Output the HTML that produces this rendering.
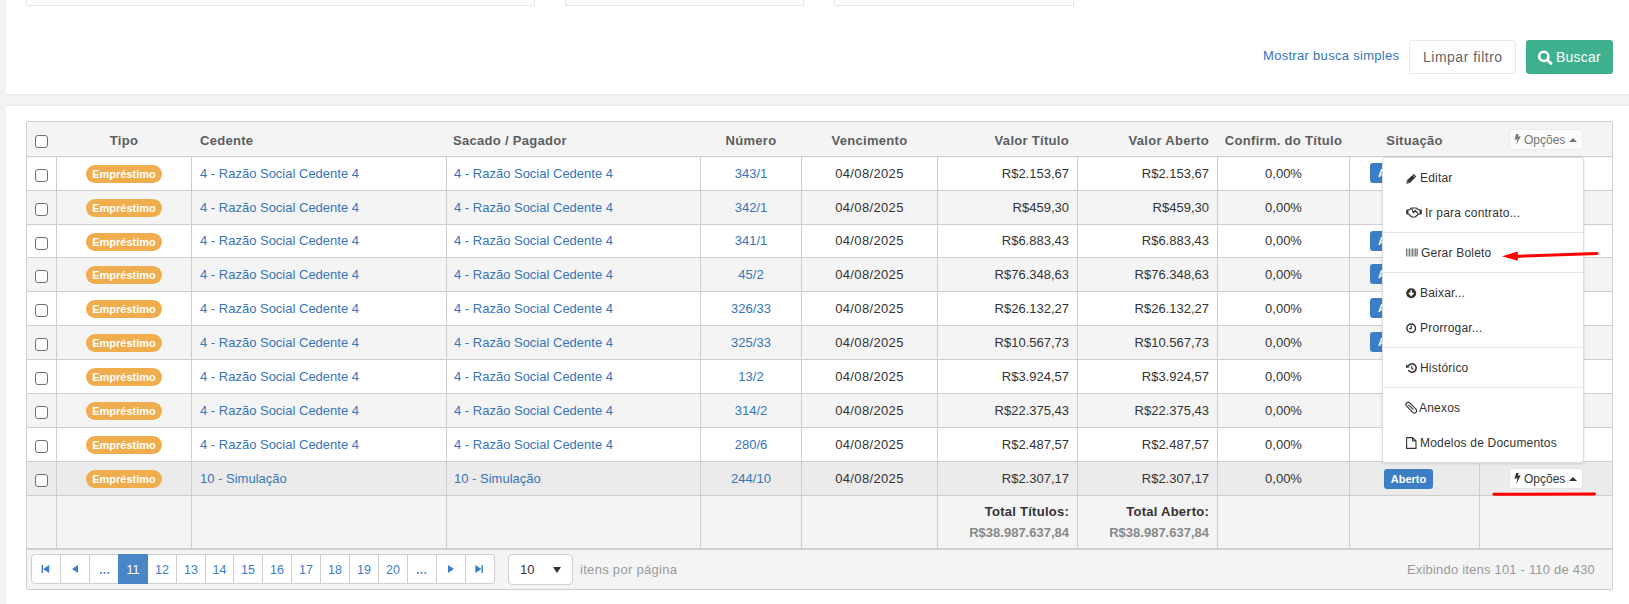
<!DOCTYPE html>
<html><head><meta charset="utf-8">
<style>
*{box-sizing:border-box;}
html,body{margin:0;padding:0;}
body{width:1629px;height:604px;overflow:hidden;position:relative;background:#f3f3f4;font-family:"Liberation Sans",sans-serif;font-size:13px;color:#333;}
.a{position:absolute;}
svg.a{overflow:visible;}
.t{position:absolute;white-space:nowrap;line-height:16px;}
.vl{position:absolute;width:1px;background:#cdcdcd;}
.hl{position:absolute;height:1px;background:#cdcdcd;}
.cb{position:absolute;width:13px;height:13px;border:1px solid #707070;border-radius:3px;background:#fff;}
.lnk{color:#3774b9;}
.emp{position:absolute;left:86px;width:76px;height:18px;border-radius:9px;background:#f0ad4e;color:#fff;font-weight:bold;font-size:11px;line-height:18px;text-align:center;}
.lbl{position:absolute;height:20px;border-radius:3px;background:#3c7ec6;color:#fff;font-weight:bold;font-size:11px;line-height:20px;text-align:center;}
.c{text-align:center;}
.r{text-align:right;}
.hd{font-weight:bold;color:#5b5e61;letter-spacing:0.3px;}
.pg{position:absolute;top:554px;height:30px;border-top:1px solid #cfcfcf;border-bottom:1px solid #cfcfcf;border-right:1px solid #cfcfcf;background:#fff;color:#3c7ec6;text-align:center;line-height:30px;font-size:12.5px;}
.mi{position:absolute;white-space:nowrap;color:#333;line-height:16px;font-size:12px;letter-spacing:0.2px;}
.sep{position:absolute;left:1383px;width:200px;height:1px;background:#e5e5e5;}
</style></head>
<body>

<div class="a" style="left:6px;top:0;width:1623px;height:95px;background:#fff;border-bottom:1px solid #e7eaec;"></div>
<div class="a" style="left:26px;top:-10px;width:509px;height:16px;border:1px solid #e5e6e7;background:#fff;"></div>
<div class="a" style="left:565px;top:-10px;width:239px;height:16px;border:1px solid #e5e6e7;background:#fff;"></div>
<div class="a" style="left:834px;top:-10px;width:240px;height:16px;border:1px solid #e5e6e7;background:#fff;"></div>
<div class="a" style="left:6px;top:105px;width:1623px;height:499px;background:#fff;border-top:1px solid #e7eaec;"></div>
<div class="t lnk" style="left:1263px;top:48px;font-size:13px;letter-spacing:0.3px;">Mostrar busca simples</div>
<div class="a" style="left:1409px;top:40px;width:107px;height:34px;border:1px solid #e7eaec;border-radius:3px;background:#fff;"></div>
<div class="t" style="left:1423px;top:49px;font-size:14px;color:#666;letter-spacing:0.5px;">Limpar filtro</div>
<div class="a" style="left:1526px;top:40px;width:87px;height:34px;border-radius:3px;background:#3eb08e;"></div>
<svg class="a" style="left:1537px;top:50px;" width="16" height="15" viewBox="0 0 16 15"><circle cx="6.8" cy="6.4" r="4.6" fill="none" stroke="#fff" stroke-width="2.6"/><line x1="10.2" y1="10" x2="14" y2="13.4" stroke="#fff" stroke-width="2.8" stroke-linecap="round"/></svg>
<div class="t" style="left:1556px;top:49px;font-size:14px;color:#fff;letter-spacing:0.2px;">Buscar</div>
<div class="a" style="left:26px;top:121px;width:1587px;height:469px;border:1px solid #cdcdcd;border-radius:2px;background:#fff;"></div>
<div class="a" style="left:27px;top:122px;width:1585px;height:34px;background:#f4f4f4;"></div>
<div class="a" style="left:27px;top:157px;width:1585px;height:33px;background:#fff;"></div>
<div class="a" style="left:27px;top:191px;width:1585px;height:33px;background:#f4f4f4;"></div>
<div class="a" style="left:27px;top:225px;width:1585px;height:32px;background:#fff;"></div>
<div class="a" style="left:27px;top:258px;width:1585px;height:33px;background:#f4f4f4;"></div>
<div class="a" style="left:27px;top:292px;width:1585px;height:33px;background:#fff;"></div>
<div class="a" style="left:27px;top:326px;width:1585px;height:33px;background:#f4f4f4;"></div>
<div class="a" style="left:27px;top:360px;width:1585px;height:33px;background:#fff;"></div>
<div class="a" style="left:27px;top:394px;width:1585px;height:33px;background:#f4f4f4;"></div>
<div class="a" style="left:27px;top:428px;width:1585px;height:33px;background:#fff;"></div>
<div class="a" style="left:27px;top:462px;width:1585px;height:33px;background:#ebebeb;"></div>
<div class="a" style="left:27px;top:496px;width:1585px;height:93px;background:#f4f4f4;"></div>
<div class="hl" style="left:27px;top:156px;width:1585px;"></div>
<div class="hl" style="left:27px;top:190px;width:1585px;"></div>
<div class="hl" style="left:27px;top:224px;width:1585px;"></div>
<div class="hl" style="left:27px;top:257px;width:1585px;"></div>
<div class="hl" style="left:27px;top:291px;width:1585px;"></div>
<div class="hl" style="left:27px;top:325px;width:1585px;"></div>
<div class="hl" style="left:27px;top:359px;width:1585px;"></div>
<div class="hl" style="left:27px;top:393px;width:1585px;"></div>
<div class="hl" style="left:27px;top:427px;width:1585px;"></div>
<div class="hl" style="left:27px;top:461px;width:1585px;"></div>
<div class="hl" style="left:27px;top:495px;width:1585px;"></div>
<div class="a" style="left:27px;top:548px;width:1585px;height:2px;background:#d0d0d0;"></div>
<div class="vl" style="left:56px;top:157px;height:391px;"></div>
<div class="vl" style="left:191px;top:157px;height:391px;"></div>
<div class="vl" style="left:446px;top:157px;height:391px;"></div>
<div class="vl" style="left:700px;top:157px;height:391px;"></div>
<div class="vl" style="left:801px;top:157px;height:391px;"></div>
<div class="vl" style="left:937px;top:157px;height:391px;"></div>
<div class="vl" style="left:1077px;top:157px;height:391px;"></div>
<div class="vl" style="left:1217px;top:157px;height:391px;"></div>
<div class="vl" style="left:1349px;top:157px;height:391px;"></div>
<div class="vl" style="left:1479px;top:157px;height:391px;"></div>
<div class="cb" style="left:35px;top:135px;"></div>
<div class="t hd c" style="left:57px;width:134px;top:133px;">Tipo</div>
<div class="t hd" style="left:200px;top:133px;">Cedente</div>
<div class="t hd" style="left:453px;top:133px;">Sacado / Pagador</div>
<div class="t hd c" style="left:701px;width:100px;top:133px;">Número</div>
<div class="t hd c" style="left:802px;width:135px;top:133px;">Vencimento</div>
<div class="t hd r" style="left:938px;width:131px;top:133px;">Valor Título</div>
<div class="t hd r" style="left:1078px;width:131px;top:133px;">Valor Aberto</div>
<div class="t hd c" style="left:1218px;width:131px;top:133px;">Confirm. do Título</div>
<div class="t hd c" style="left:1350px;width:129px;top:133px;">Situação</div>
<div class="a" style="left:1509px;top:129px;width:74px;height:21px;border:1px solid #ececec;border-radius:3px;background:#fbfbfb;"></div>
<svg class="a" style="left:1514px;top:134px;" width="7" height="12"><polygon points="2.2,0 4.8,0 3.8,2.6 6.7,2.3 2.2,11.2 3.5,5.3 0.4,5.8" fill="#777"/></svg>
<div class="t" style="left:1524px;top:132px;font-size:12px;color:#777;">Opções</div>
<svg class="a" style="left:1569px;top:138px;" width="8" height="4"><polygon points="0,4 8,4 4,0" fill="#777"/></svg>
<div class="cb" style="left:35px;top:169px;"></div>
<div class="emp" style="top:165px;">Empréstimo</div>
<div class="t lnk" style="left:200px;top:166px;">4 - Razão Social Cedente 4</div>
<div class="t lnk" style="left:454px;top:166px;">4 - Razão Social Cedente 4</div>
<div class="t lnk c" style="left:701px;width:100px;top:166px;">343/1</div>
<div class="t c" style="left:802px;width:135px;top:166px;letter-spacing:0.35px;">04/08/2025</div>
<div class="t r" style="left:938px;width:131px;top:166px;">R$2.153,67</div>
<div class="t r" style="left:1078px;width:131px;top:166px;">R$2.153,67</div>
<div class="t c" style="left:1218px;width:131px;top:166px;">0,00%</div>
<div class="lbl" style="left:1370px;width:77px;top:163px;text-align:left;padding-left:8px;">A vencer</div>
<div class="cb" style="left:35px;top:203px;"></div>
<div class="emp" style="top:199px;">Empréstimo</div>
<div class="t lnk" style="left:200px;top:200px;">4 - Razão Social Cedente 4</div>
<div class="t lnk" style="left:454px;top:200px;">4 - Razão Social Cedente 4</div>
<div class="t lnk c" style="left:701px;width:100px;top:200px;">342/1</div>
<div class="t c" style="left:802px;width:135px;top:200px;letter-spacing:0.35px;">04/08/2025</div>
<div class="t r" style="left:938px;width:131px;top:200px;">R$459,30</div>
<div class="t r" style="left:1078px;width:131px;top:200px;">R$459,30</div>
<div class="t c" style="left:1218px;width:131px;top:200px;">0,00%</div>
<div class="cb" style="left:35px;top:237px;"></div>
<div class="emp" style="top:233px;">Empréstimo</div>
<div class="t lnk" style="left:200px;top:233px;">4 - Razão Social Cedente 4</div>
<div class="t lnk" style="left:454px;top:233px;">4 - Razão Social Cedente 4</div>
<div class="t lnk c" style="left:701px;width:100px;top:233px;">341/1</div>
<div class="t c" style="left:802px;width:135px;top:233px;letter-spacing:0.35px;">04/08/2025</div>
<div class="t r" style="left:938px;width:131px;top:233px;">R$6.883,43</div>
<div class="t r" style="left:1078px;width:131px;top:233px;">R$6.883,43</div>
<div class="t c" style="left:1218px;width:131px;top:233px;">0,00%</div>
<div class="lbl" style="left:1370px;width:77px;top:231px;text-align:left;padding-left:8px;">A vencer</div>
<div class="cb" style="left:35px;top:270px;"></div>
<div class="emp" style="top:266px;">Empréstimo</div>
<div class="t lnk" style="left:200px;top:267px;">4 - Razão Social Cedente 4</div>
<div class="t lnk" style="left:454px;top:267px;">4 - Razão Social Cedente 4</div>
<div class="t lnk c" style="left:701px;width:100px;top:267px;">45/2</div>
<div class="t c" style="left:802px;width:135px;top:267px;letter-spacing:0.35px;">04/08/2025</div>
<div class="t r" style="left:938px;width:131px;top:267px;">R$76.348,63</div>
<div class="t r" style="left:1078px;width:131px;top:267px;">R$76.348,63</div>
<div class="t c" style="left:1218px;width:131px;top:267px;">0,00%</div>
<div class="lbl" style="left:1370px;width:77px;top:264px;text-align:left;padding-left:8px;">A vencer</div>
<div class="cb" style="left:35px;top:304px;"></div>
<div class="emp" style="top:300px;">Empréstimo</div>
<div class="t lnk" style="left:200px;top:301px;">4 - Razão Social Cedente 4</div>
<div class="t lnk" style="left:454px;top:301px;">4 - Razão Social Cedente 4</div>
<div class="t lnk c" style="left:701px;width:100px;top:301px;">326/33</div>
<div class="t c" style="left:802px;width:135px;top:301px;letter-spacing:0.35px;">04/08/2025</div>
<div class="t r" style="left:938px;width:131px;top:301px;">R$26.132,27</div>
<div class="t r" style="left:1078px;width:131px;top:301px;">R$26.132,27</div>
<div class="t c" style="left:1218px;width:131px;top:301px;">0,00%</div>
<div class="lbl" style="left:1370px;width:77px;top:298px;text-align:left;padding-left:8px;">A vencer</div>
<div class="cb" style="left:35px;top:338px;"></div>
<div class="emp" style="top:334px;">Empréstimo</div>
<div class="t lnk" style="left:200px;top:335px;">4 - Razão Social Cedente 4</div>
<div class="t lnk" style="left:454px;top:335px;">4 - Razão Social Cedente 4</div>
<div class="t lnk c" style="left:701px;width:100px;top:335px;">325/33</div>
<div class="t c" style="left:802px;width:135px;top:335px;letter-spacing:0.35px;">04/08/2025</div>
<div class="t r" style="left:938px;width:131px;top:335px;">R$10.567,73</div>
<div class="t r" style="left:1078px;width:131px;top:335px;">R$10.567,73</div>
<div class="t c" style="left:1218px;width:131px;top:335px;">0,00%</div>
<div class="lbl" style="left:1370px;width:77px;top:332px;text-align:left;padding-left:8px;">A vencer</div>
<div class="cb" style="left:35px;top:372px;"></div>
<div class="emp" style="top:368px;">Empréstimo</div>
<div class="t lnk" style="left:200px;top:369px;">4 - Razão Social Cedente 4</div>
<div class="t lnk" style="left:454px;top:369px;">4 - Razão Social Cedente 4</div>
<div class="t lnk c" style="left:701px;width:100px;top:369px;">13/2</div>
<div class="t c" style="left:802px;width:135px;top:369px;letter-spacing:0.35px;">04/08/2025</div>
<div class="t r" style="left:938px;width:131px;top:369px;">R$3.924,57</div>
<div class="t r" style="left:1078px;width:131px;top:369px;">R$3.924,57</div>
<div class="t c" style="left:1218px;width:131px;top:369px;">0,00%</div>
<div class="cb" style="left:35px;top:406px;"></div>
<div class="emp" style="top:402px;">Empréstimo</div>
<div class="t lnk" style="left:200px;top:403px;">4 - Razão Social Cedente 4</div>
<div class="t lnk" style="left:454px;top:403px;">4 - Razão Social Cedente 4</div>
<div class="t lnk c" style="left:701px;width:100px;top:403px;">314/2</div>
<div class="t c" style="left:802px;width:135px;top:403px;letter-spacing:0.35px;">04/08/2025</div>
<div class="t r" style="left:938px;width:131px;top:403px;">R$22.375,43</div>
<div class="t r" style="left:1078px;width:131px;top:403px;">R$22.375,43</div>
<div class="t c" style="left:1218px;width:131px;top:403px;">0,00%</div>
<div class="cb" style="left:35px;top:440px;"></div>
<div class="emp" style="top:436px;">Empréstimo</div>
<div class="t lnk" style="left:200px;top:437px;">4 - Razão Social Cedente 4</div>
<div class="t lnk" style="left:454px;top:437px;">4 - Razão Social Cedente 4</div>
<div class="t lnk c" style="left:701px;width:100px;top:437px;">280/6</div>
<div class="t c" style="left:802px;width:135px;top:437px;letter-spacing:0.35px;">04/08/2025</div>
<div class="t r" style="left:938px;width:131px;top:437px;">R$2.487,57</div>
<div class="t r" style="left:1078px;width:131px;top:437px;">R$2.487,57</div>
<div class="t c" style="left:1218px;width:131px;top:437px;">0,00%</div>
<div class="cb" style="left:35px;top:474px;"></div>
<div class="emp" style="top:470px;">Empréstimo</div>
<div class="t lnk" style="left:200px;top:471px;">10 - Simulação</div>
<div class="t lnk" style="left:454px;top:471px;">10 - Simulação</div>
<div class="t lnk c" style="left:701px;width:100px;top:471px;">244/10</div>
<div class="t c" style="left:802px;width:135px;top:471px;letter-spacing:0.35px;">04/08/2025</div>
<div class="t r" style="left:938px;width:131px;top:471px;">R$2.307,17</div>
<div class="t r" style="left:1078px;width:131px;top:471px;">R$2.307,17</div>
<div class="t c" style="left:1218px;width:131px;top:471px;">0,00%</div>
<div class="lbl" style="left:1384px;width:49px;top:469px;">Aberto</div>
<div class="a" style="left:1509px;top:468px;width:74px;height:21px;border:1px solid #e3e3e3;border-radius:3px;background:#fff;"></div>
<svg class="a" style="left:1514px;top:473px;" width="7" height="12"><polygon points="2.2,0 4.8,0 3.8,2.6 6.7,2.3 2.2,11.2 3.5,5.3 0.4,5.8" fill="#333"/></svg>
<div class="t" style="left:1524px;top:471px;font-size:12px;color:#333;">Opções</div>
<svg class="a" style="left:1569px;top:477px;" width="8" height="4"><polygon points="0,4 8,4 4,0" fill="#333"/></svg>
<div class="t hd r" style="left:938px;width:131px;top:504px;color:#333;letter-spacing:0.25px;">Total Títulos:</div>
<div class="t hd r" style="left:938px;width:131px;top:525px;color:#888;letter-spacing:0;">R$38.987.637,84</div>
<div class="t hd r" style="left:1078px;width:131px;top:504px;color:#333;letter-spacing:0.25px;">Total Aberto:</div>
<div class="t hd r" style="left:1078px;width:131px;top:525px;color:#888;letter-spacing:0;">R$38.987.637,84</div>
<div class="pg" style="left:31px;width:30px;border-left:1px solid #cfcfcf;border-radius:4px 0 0 4px;"></div>
<div class="pg" style="left:61px;width:29px;"></div>
<div class="pg" style="left:90px;width:29px;"></div>
<div class="pg" style="left:119px;width:29px;background:#4a86c6;color:#fff;border-color:#4a86c6;left:118px;width:30px;border-left:1px solid #4a86c6;">11</div>
<div class="pg" style="left:148px;width:29px;">12</div>
<div class="pg" style="left:177px;width:29px;">13</div>
<div class="pg" style="left:206px;width:28px;">14</div>
<div class="pg" style="left:234px;width:29px;">15</div>
<div class="pg" style="left:263px;width:29px;">16</div>
<div class="pg" style="left:292px;width:29px;">17</div>
<div class="pg" style="left:321px;width:29px;">18</div>
<div class="pg" style="left:350px;width:29px;">19</div>
<div class="pg" style="left:379px;width:29px;">20</div>
<div class="pg" style="left:408px;width:29px;"></div>
<div class="pg" style="left:437px;width:29px;"></div>
<div class="pg" style="left:466px;width:29px;border-radius:0 4px 4px 0;"></div>
<svg class="a" style="left:99.5px;top:572px;" width="10" height="2"><rect x="0" y="0" width="1.7" height="1.8" fill="#3c7ec6"/><rect x="3.7" y="0" width="1.7" height="1.8" fill="#3c7ec6"/><rect x="7.4" y="0" width="1.7" height="1.8" fill="#3c7ec6"/></svg>
<svg class="a" style="left:417.3px;top:572px;" width="10" height="2"><rect x="0" y="0" width="1.7" height="1.8" fill="#3c7ec6"/><rect x="3.7" y="0" width="1.7" height="1.8" fill="#3c7ec6"/><rect x="7.4" y="0" width="1.7" height="1.8" fill="#3c7ec6"/></svg>
<svg class="a" style="left:41px;top:565px;" width="9" height="8"><rect x="0.6" y="0" width="1.4" height="8" fill="#3c7ec6"/><polygon points="2,4 8.2,0 8.2,8" fill="#3c7ec6"/></svg>
<svg class="a" style="left:72px;top:565px;" width="6" height="8"><polygon points="0,4 6,0 6,8" fill="#3c7ec6"/></svg>
<svg class="a" style="left:448px;top:565px;" width="6" height="8"><polygon points="0,0 6,4 0,8" fill="#3c7ec6"/></svg>
<svg class="a" style="left:475px;top:565px;" width="9" height="8"><polygon points="0.3,0 6.5,4 0.3,8" fill="#3c7ec6"/><rect x="6.5" y="0" width="1.4" height="8" fill="#3c7ec6"/></svg>
<div class="a" style="left:508px;top:554px;width:65px;height:31px;border:1px solid #cfcfcf;border-radius:4px;background:#fff;"></div>
<div class="t" style="left:520px;top:562px;">10</div>
<svg class="a" style="left:553px;top:567px;" width="8" height="6"><polygon points="0,0 8,0 4,6" fill="#333"/></svg>
<div class="t" style="left:580px;top:562px;color:#999;letter-spacing:0.3px;">itens por página</div>
<div class="t r" style="left:1300px;width:295px;top:562px;color:#999;letter-spacing:0.2px;">Exibindo itens 101 - 110 de 430</div>
<div class="a" style="left:1382px;top:157px;width:202px;height:306px;background:#fff;border:1px solid #dedede;border-radius:3px;box-shadow:0 1px 3px rgba(0,0,0,0.12);"></div>
<svg class="a" style="left:1406px;top:173px;" width="11" height="11" viewBox="0 0 11 11"><polygon points="0.3,10.7 1.1,7.2 7.6,0.7 10.3,3.4 3.8,9.9" fill="#333"/><line x1="6.5" y1="1.9" x2="9.1" y2="4.5" stroke="#fff" stroke-width="0.7"/><line x1="1.4" y1="8.1" x2="2.9" y2="9.6" stroke="#fff" stroke-width="0.6"/></svg>
<div class="mi" style="top:170px;left:1420px;">Editar</div>
<svg class="a" style="left:1406px;top:207px;" width="16" height="11" viewBox="0 0 16 11"><rect x="0.2" y="2.6" width="2.3" height="4.8" fill="#333"/><rect x="13.6" y="2.6" width="2.2" height="4.8" fill="#333"/><path d="M2.4 3 L3.9 2.4 L5.5 1 L10 1 L12.3 2.4 L13.7 3 M13.7 7 L12.4 7.3 L9.1 10 L5.9 10 L2.4 7" fill="none" stroke="#333" stroke-width="1.2" stroke-linejoin="round"/><path d="M5.9 1.6 L7.3 5.8 L9.3 3.5 L12 6.6" fill="none" stroke="#333" stroke-width="1.2" stroke-linejoin="round"/></svg>
<div class="mi" style="top:205px;left:1425px;">Ir para contrato...</div>
<svg class="a" style="left:1406px;top:248px;" width="12" height="9" viewBox="0 0 12 9"><g fill="#777"><rect x="0" y="0.5" width="1" height="8"/><rect x="1.6" y="0.5" width="0.6" height="8"/><rect x="2.8" y="0.5" width="1.4" height="8"/><rect x="4.8" y="0.5" width="0.6" height="8"/><rect x="6" y="0.5" width="1" height="8"/><rect x="7.5" y="0.5" width="0.6" height="8"/><rect x="8.6" y="0.5" width="1.3" height="8"/><rect x="10.4" y="0.5" width="1.4" height="8"/></g></svg>
<div class="mi" style="top:245px;left:1421px;">Gerar Boleto</div>
<svg class="a" style="left:1406px;top:288px;" width="11" height="11" viewBox="0 0 11 11"><circle cx="5.2" cy="5.2" r="5" fill="#333"/><path d="M5.2 2.2 V6.8 M2.9 4.8 L5.2 7.4 L7.5 4.8" fill="none" stroke="#fff" stroke-width="1.6"/></svg>
<div class="mi" style="top:285px;left:1420px;">Baixar...</div>
<svg class="a" style="left:1406px;top:323px;" width="11" height="11" viewBox="0 0 11 11"><circle cx="5.2" cy="5.2" r="4.3" fill="none" stroke="#333" stroke-width="1.5"/><path d="M5.2 2.6 V5.6 H3.2" fill="none" stroke="#333" stroke-width="1.2"/></svg>
<div class="mi" style="top:320px;left:1420px;">Prorrogar...</div>
<svg class="a" style="left:1406px;top:363px;" width="11" height="10" viewBox="0 0 11 10"><path d="M2.2 3.2 A4.2 4.2 0 1 1 2.4 7.2" fill="none" stroke="#333" stroke-width="1.6"/><polygon points="0,1.2 3.8,4.4 0,4.8" fill="#333"/><path d="M5.8 2.8 V5.4 L7.4 6.6" fill="none" stroke="#333" stroke-width="1.2"/></svg>
<div class="mi" style="top:360px;left:1420px;">Histórico</div>
<svg class="a" style="left:1406px;top:402px;" width="11" height="11" viewBox="0 0 11 11"><g transform="rotate(45 5.3 5.6)"><rect x="-1.3" y="3.4" width="13.2" height="4.4" rx="2.2" fill="none" stroke="#333" stroke-width="1.1"/><line x1="1.2" y1="5.6" x2="8.2" y2="5.6" stroke="#333" stroke-width="1"/></g></svg>
<div class="mi" style="top:400px;left:1419px;">Anexos</div>
<svg class="a" style="left:1406px;top:437px;" width="11" height="12" viewBox="0 0 11 12"><path d="M0.6 0.6 H6.6 L10 4 V11.4 H0.6 Z M6.6 0.6 V4 H10" fill="none" stroke="#333" stroke-width="1.1" stroke-linejoin="round"/></svg>
<div class="mi" style="top:435px;left:1420px;">Modelos de Documentos</div>
<div class="sep" style="top:232px;"></div>
<div class="sep" style="top:272px;"></div>
<div class="sep" style="top:347px;"></div>
<div class="sep" style="top:387px;"></div>
<svg class="a" style="left:0;top:0;" width="1629" height="604"><line x1="1514" y1="256.4" x2="1597" y2="253.4" stroke="#f00" stroke-width="3" stroke-linecap="round"/><polygon points="1502,256.3 1517.8,251.6 1517.8,260.8" fill="#f00"/><line x1="1494" y1="494.2" x2="1594.5" y2="494" stroke="#f00" stroke-width="3" stroke-linecap="round"/></svg>
</body></html>
